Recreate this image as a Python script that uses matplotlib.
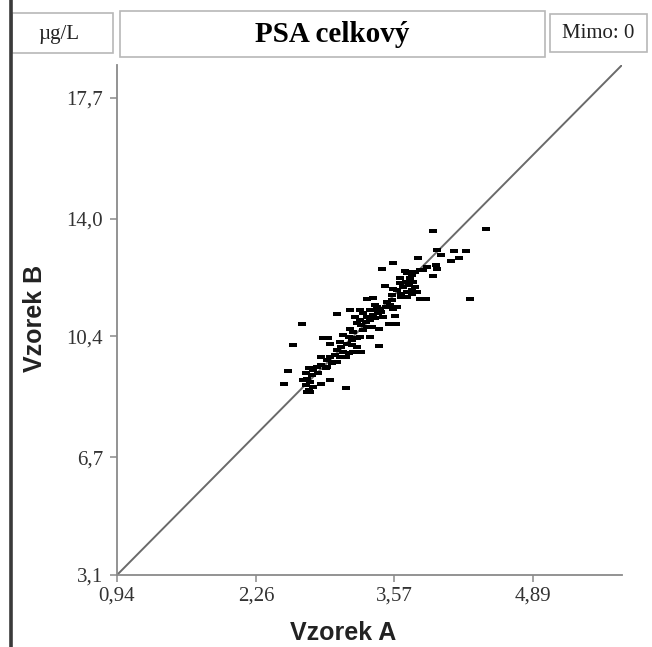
import matplotlib
matplotlib.use("Agg")
import matplotlib.pyplot as plt
from matplotlib.patches import Rectangle
from matplotlib.lines import Line2D

# Values
vzorek_a = [3.94, 4.44, 4.02, 4.14, 4.19, 4.25, 4.11, 3.98, 3.80, 3.56,
            3.46, 3.67, 3.97, 3.98, 3.94, 4.29, 3.82, 3.87, 3.48, 3.56,
            3.64, 3.74, 3.31, 3.37, 3.39, 3.15, 3.03, 2.70, 3.52, 3.59,
            3.58, 3.43, 2.90, 2.94, 2.61, 2.96, 3.43, 3.26, 2.56, 2.53,
            2.88, 2.96, 3.11, 2.77, 2.74, 3.34,
            3.69, 3.74, 3.77, 3.72, 3.68, 3.75, 3.71, 3.66, 3.77, 3.74,
            3.69, 3.79, 3.63, 3.72, 3.82, 3.64, 3.85, 3.88, 3.60, 3.55,
            3.34, 3.39, 3.44, 3.49, 3.53, 3.55, 3.50, 3.42, 3.37, 3.31,
            3.45, 3.56, 3.60, 3.41, 3.28, 3.25, 3.30, 3.34, 3.39, 3.20,
            3.22, 3.26, 3.31, 3.36,
            3.15, 3.18, 3.14, 3.09, 3.17, 3.22, 3.12, 3.07, 3.17, 3.22,
            3.03, 3.09, 3.14, 3.06, 3.01, 2.96, 3.18, 3.25, 3.28,
            2.93, 2.98, 2.88, 2.84, 2.92, 2.80, 2.76, 2.85, 2.79, 2.73,
            2.74, 2.71, 2.77, 2.73, 2.80, 2.76, 2.93, 2.99,
            2.88, 3.06, 3.25, 3.63, 3.69, 3.47, 3.11, 3.03]
vzorek_b = [13.63, 13.68, 12.89, 13.02, 12.81, 13.02, 12.70, 13.04, 12.81, 12.65,
            12.46, 12.41, 12.58, 12.45, 12.24, 11.53, 11.53, 11.53, 11.94, 11.84,
            11.59, 11.71, 11.53, 11.56, 11.36, 11.20, 11.07, 10.78, 10.79, 10.79,
            11.02, 10.62, 10.34, 10.34, 10.14, 10.16, 10.10, 9.93, 9.33, 8.94,
            8.93, 9.08, 8.81, 8.71, 8.71, 10.39,
            12.33, 12.27, 12.38, 12.17, 12.07, 12.07, 11.97, 11.92, 11.92, 11.82,
            11.76, 11.76, 12.02, 12.38, 12.43, 11.71, 12.43, 12.53, 11.82, 11.66,
            11.20, 11.20, 11.25, 11.30, 11.36, 11.51, 11.46, 11.10, 11.05, 11.00,
            11.15, 11.25, 11.30, 11.30, 11.10, 10.90, 10.85, 10.90, 10.95, 11.00,
            10.80, 10.75, 10.69, 10.69,
            10.64, 10.54, 10.39, 10.44, 10.29, 10.34, 10.18, 10.08, 10.13, 10.08,
            9.98, 9.93, 9.88, 9.78, 9.83, 9.78, 9.93, 10.39, 10.59,
            9.67, 9.57, 9.52, 9.47, 9.42, 9.37, 9.42, 9.27, 9.22, 9.27,
            9.11, 9.06, 9.01, 8.91, 8.86, 8.76, 9.47, 9.62,
            9.78, 10.24, 11.20, 12.17, 11.61, 11.00, 9.78, 9.62]

x_ticks = [0.94, 2.26, 3.57, 4.89]
x_labels = ["0,94", "2,26", "3,57", "4,89"]
y_ticks = [3.1, 6.7, 10.4, 14.0, 17.7]
y_labels = ["3,1", "6,7", "10,4", "14,0", "17,7"]
x_range = (0.94, 5.735)
y_range = (3.1, 18.7)

W, H = 652, 647
fig = plt.figure(figsize=(W / 100, H / 100), dpi=100)
fig.patch.set_facecolor("white")

ax = fig.add_axes([117 / W, 1 - 575 / H, 505 / W, 510 / H])
ax.set_xlim(*x_range)
ax.set_ylim(*y_range)

for side in ["top", "right"]:
    ax.spines[side].set_visible(False)
for side in ["left", "bottom"]:
    ax.spines[side].set_color("#8a8a8a")
    ax.spines[side].set_linewidth(1.3)

ax.set_xticks(x_ticks)
ax.set_xticklabels(x_labels)
ax.set_yticks(y_ticks)
ax.set_yticklabels(y_labels)
ax.tick_params(length=5, width=1.1, color="#8a8a8a", labelcolor="#333333",
               labelsize=15, pad=5)
ax.tick_params(axis="x", pad=3)
for lab in ax.get_xticklabels() + ax.get_yticklabels():
    lab.set_fontfamily("Liberation Serif")

# identity / corner-to-corner line
ax.plot([0, 1], [0, 1], transform=ax.transAxes, color="#6a6a6a", lw=1.4, zorder=2)

dash = [(-1, -0.42), (1, -0.42), (1, 0.42), (-1, 0.42), (-1, -0.42)]
ax.scatter(vzorek_a, vzorek_b, marker=dash, s=30, color="black", linewidths=0, zorder=3)

fig.text(343 / W, 1 - 633 / H, "Vzorek A", ha="center", va="center",
         fontsize=18, fontweight="bold", family="Liberation Sans", color="#222222")
fig.text(35 / W, 1 - 318 / H, "Vzorek B", ha="center", va="center", rotation=90,
         fontsize=18, fontweight="bold", family="Liberation Sans", color="#222222")

# header boxes
def box(x0, y0, x1, y1):
    fig.patches.append(Rectangle((x0 / W, 1 - y1 / H), (x1 - x0) / W, (y1 - y0) / H,
                                 transform=fig.transFigure, fill=False,
                                 edgecolor="#b8b8b8", lw=1.2))

box(12, 13, 113, 53)
box(120, 11, 545, 57)
box(550, 14, 647, 52)
fig.text(59 / W, 1 - 35 / H, "µg/L", ha="center", va="center", fontsize=15,
         family="Liberation Serif", color="#222222")
fig.text(332 / W, 1 - 35 / H, "PSA celkový", ha="center", va="center", fontsize=21,
         fontweight="bold", family="Liberation Serif", color="black")
fig.text(598 / W, 1 - 34 / H, "Mimo: 0", ha="center", va="center", fontsize=15,
         family="Liberation Serif", color="#222222")

# dark vertical rule at the left edge
fig.lines.append(Line2D([10.5 / W, 10.5 / W], [0, 1], transform=fig.transFigure,
                        color="#3a3a3a", lw=2.6))

plt.savefig("out.png", dpi=100)
